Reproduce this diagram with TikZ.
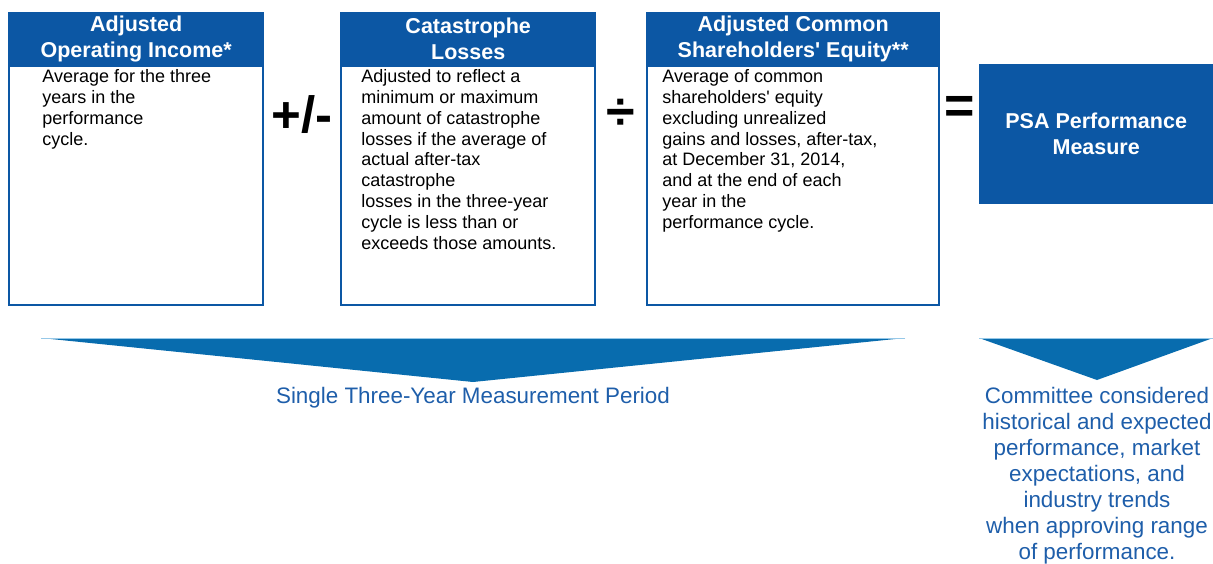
\documentclass[tikz,border=0pt]{standalone}
\usepackage{fontspec}
\setmainfont{Liberation Sans}
\usetikzlibrary{positioning}
\definecolor{psablue}{RGB}{12,87,164}
\definecolor{wedgeblue}{RGB}{8,108,174}
\definecolor{wedgeedge}{RGB}{150,200,232}
\definecolor{noteblue}{RGB}{30,94,170}
\newcommand{\hdrheight}{53pt}
\newcommand{\bodyheight}{239pt}
\newcommand{\hdrfont}{\fontsize{21.5}{26}\selectfont\bfseries}
\newcommand{\bodyfont}{\fontsize{18}{20.8}\selectfont}
\newcommand{\notefont}{\fontsize{22.4}{26}\selectfont}
\newcommand{\opfont}{\fontsize{51}{51}\selectfont\bfseries}
\newcommand{\bigopfont}{\fontsize{52}{52}\selectfont\bfseries}
\newcommand{\apos}{\textquotesingle}

\tikzset{
  hdr/.style={fill=psablue, text=white, font=\hdrfont, align=center,
    inner sep=0pt, minimum height=\hdrheight, anchor=north west},
  body/.style={draw=psablue, line width=2pt, inner sep=0pt,
    minimum height=\bodyheight},
  bodytext/.style={font=\bodyfont, align=left, inner sep=0pt},
  opsign/.style={font=\opfont, inner sep=0pt},
  note/.style={font=\notefont, text=noteblue, inner sep=0pt, align=center},
}

\begin{document}
\begin{tikzpicture}[x=1pt, y=-1pt]
    \useasboundingbox (0,0) rectangle (1213,563);

    % income part
    \node[hdr, minimum width=256pt] (hdr1) at (8,12) {Adjusted\\Operating Income*};
    \node[body, minimum width=254pt, below=0pt of hdr1] (body1) {};
    \node[bodytext, below right=4pt and 34pt of body1.north west] (text1)
      {Average for the three\\years in the\\performance\\cycle.};

    % catastrophe part
    \node[hdr, minimum width=256pt] (hdr2) at (340,12) {Catastrophe\\Losses};
    \node[body, minimum width=254pt, below=0pt of hdr2] (body2) {};
    \node[bodytext, below right=4pt and 21pt of body2.north west] (text2)
      {Adjusted to reflect a\\minimum or maximum\\amount of catastrophe\\losses if the average of\\actual after-tax\\catastrophe\\losses in the three-year\\cycle is less than or\\exceeds those amounts.};

    % equity part
    \node[hdr, minimum width=294pt] (hdr3) at (646,12) {Adjusted Common\\Shareholders\apos{} Equity**};
    \node[body, minimum width=292pt, below=0pt of hdr3] (body3) {};
    \node[bodytext, below right=4pt and 16pt of body3.north west] (text3)
      {Average of common\\shareholders\apos{} equity\\excluding unrealized\\gains and losses, after-tax,\\at December 31, 2014,\\and at the end of each\\year in the\\performance cycle.};

    % result part
    \node[hdr, minimum width=234pt, minimum height=140pt] (psa) at (979,64)
      {PSA Performance\\Measure};

    % operators
    \node[opsign] (plusminus) at (302,115) {+/-};
    \node[opsign, font=\bigopfont] (divide) at (621,114) {÷};
    \node[opsign, font=\bigopfont] (equals) at (960,110) {=};

    % period wedge
    \coordinate (w1l) at (41,338);
    \coordinate (w1r) at (905,338);
    \coordinate (w1tip) at (473,382);
    \fill[wedgeblue] (w1l) -- (w1r) -- (w1tip) -- cycle;
    \draw[wedgeedge, line width=1pt] (w1l) -- (w1r);
    \node[note, below=5pt of w1tip] (period) {Single Three-Year Measurement Period};

    % committee wedge
    \coordinate (w2l) at (979,338);
    \coordinate (w2r) at (1213,338);
    \coordinate (w2tip) at (1097,380);
    \fill[wedgeblue] (w2l) -- (w2r) -- (w2tip) -- cycle;
    \draw[wedgeedge, line width=1pt] (w2l) -- (w2r);
    \node[note, below=7pt of w2tip] (committee)
      {Committee considered\\historical and expected\\performance, market\\expectations, and\\industry trends\\when approving range\\of performance.};
\end{tikzpicture}
\end{document}
